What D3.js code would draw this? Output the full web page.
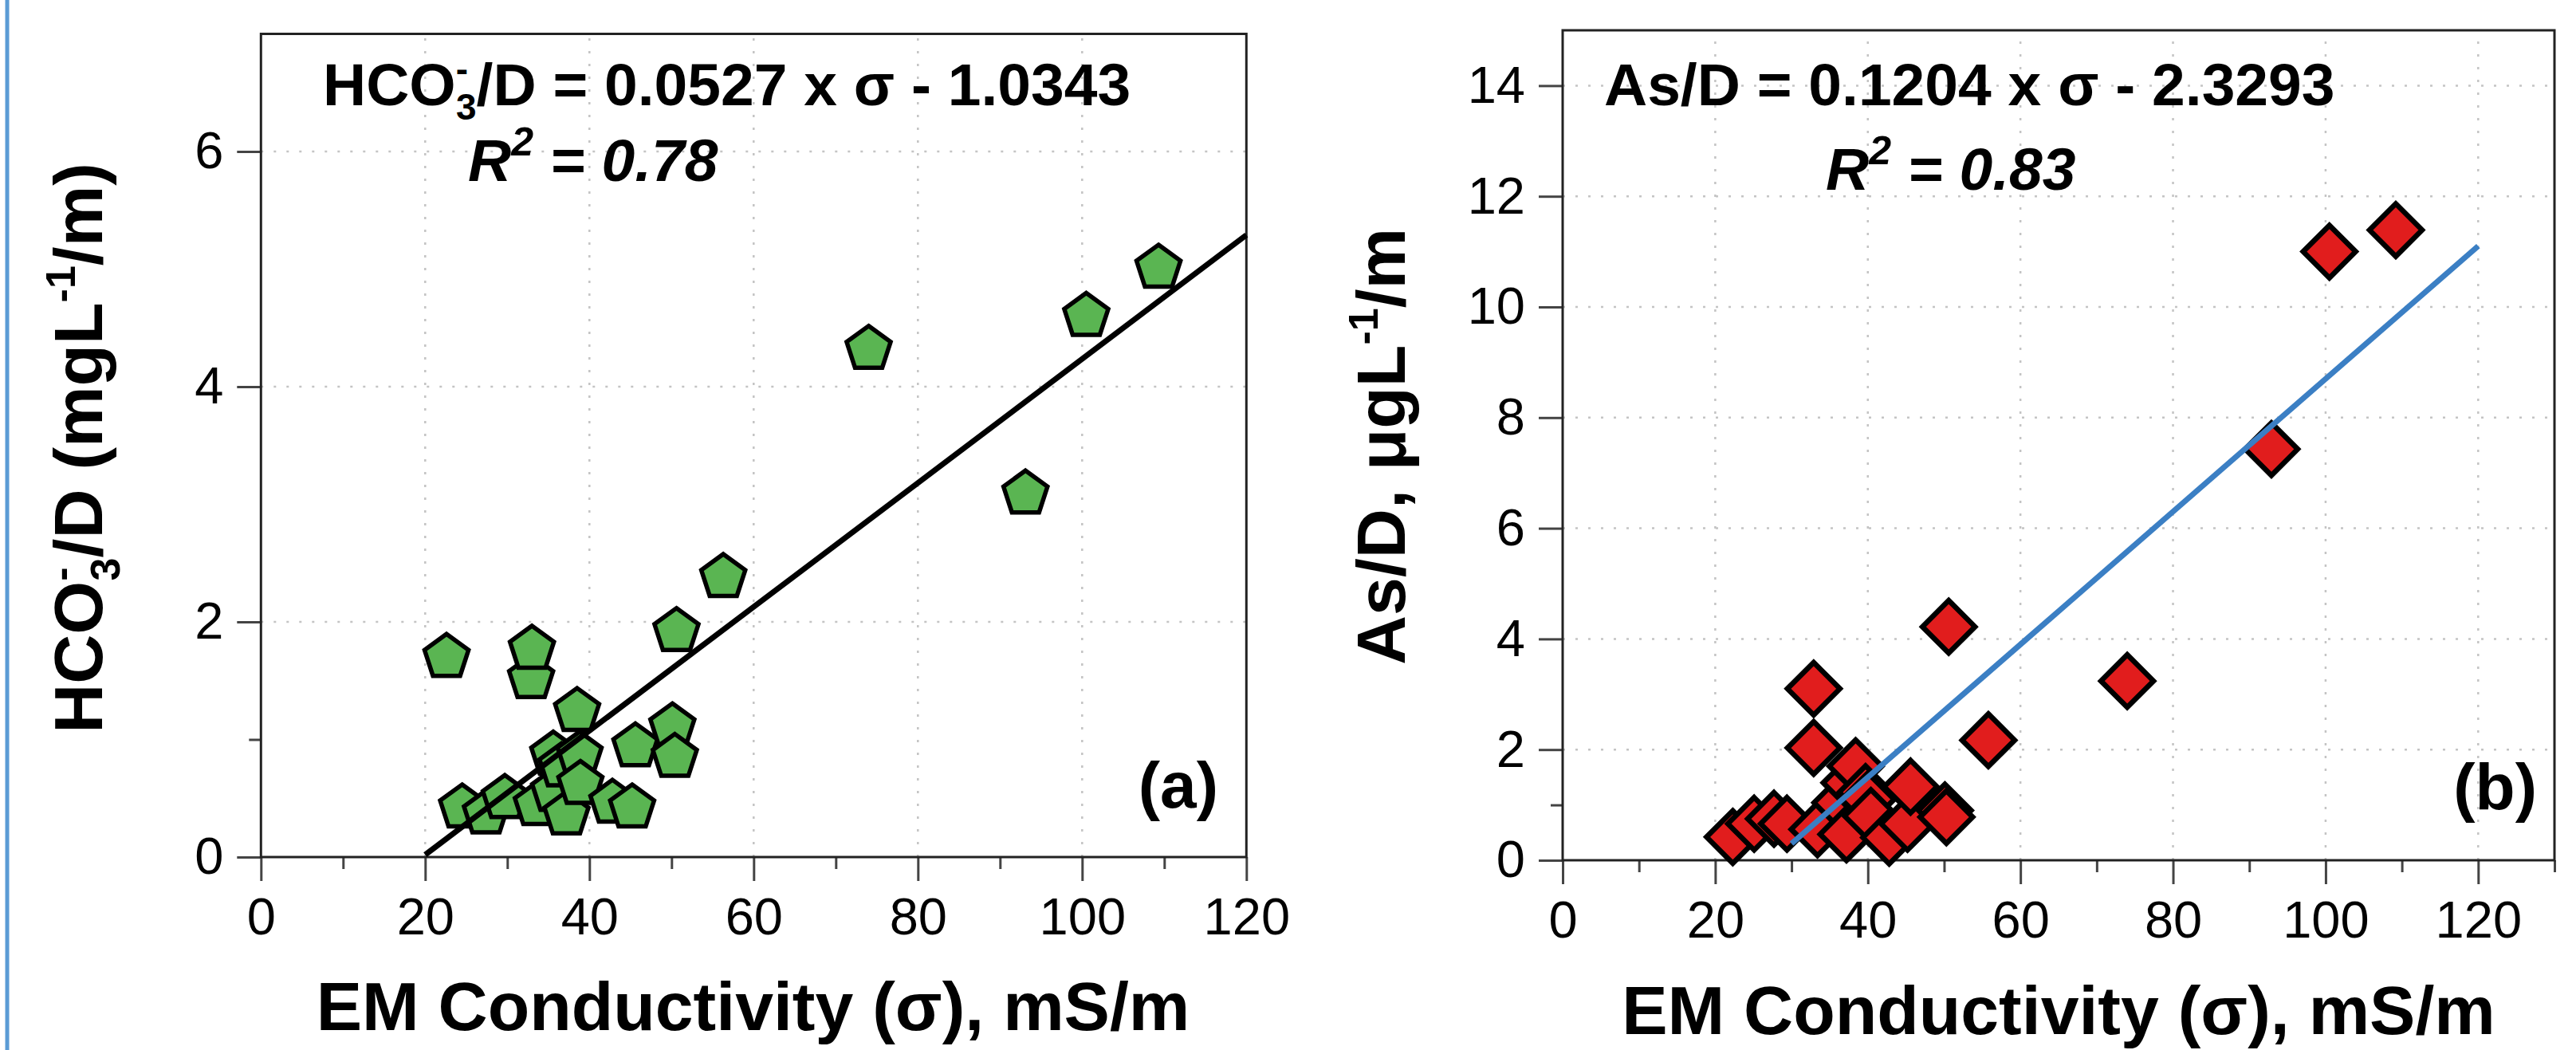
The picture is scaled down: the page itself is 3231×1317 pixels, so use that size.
<!DOCTYPE html>
<html><head><meta charset="utf-8">
<script src="https://cdn.jsdelivr.net/npm/d3@7"></script>
<style>
body{margin:0;background:#fff;}
svg{display:block;}
text{font-family:"Liberation Sans",Arial,Helvetica,sans-serif;}
</style>
</head><body>
<svg id="c" width="3231" height="1317"></svg>
<script>
// ---------- data ----------
// Panel (a): HCO3-/D vs EM conductivity
const sigmaA = [22.6, 24.5, 27.4, 29.7, 32.9, 33.0, 33.6, 35.6, 35.7, 36.6, 37.2, 38.5, 38.8, 38.9, 42.8, 45.2, 45.6, 50.1, 50.4, 50.6, 56.3, 74.0, 93.1, 100.5, 109.3];
const hco3A  = [1.70, 0.42, 0.37, 0.50, 1.52, 1.77, 0.44, 0.87, 0.56, 0.77, 0.36, 1.24, 0.87, 0.62, 0.46, 0.42, 0.94, 1.11, 0.85, 1.92, 2.38, 4.32, 3.09, 4.60, 5.01];
// Panel (b): As/D vs EM conductivity
const sigmaB = [22.3, 25.1, 27.7, 29.4, 32.9, 32.9, 33.4, 36.4, 37.2, 37.6, 38.4, 39.7, 40.0, 40.4, 42.8, 45.2, 45.6, 50.1, 50.3, 50.6, 55.8, 74.0, 92.9, 100.5, 109.2];
const asB    = [0.42, 0.66, 0.75, 0.66, 3.10, 2.03, 0.56, 1.04, 0.47, 1.40, 1.70, 1.23, 1.10, 0.80, 0.41, 0.66, 1.33, 0.90, 0.78, 4.22, 2.17, 3.24, 7.43, 11.0, 11.39];
// regression lines
const fitASlope = 0.0527, fitAIntercept = -1.0343, fitARange = [20, 120];
const fitBx = [30, 120], fitBy = [0.30, 11.1];
// ticks
const xTickValues = [0, 20, 40, 60, 80, 100, 120];
const xMinorA = [10, 30, 50, 70, 90, 110];
const xMinorB = [10, 30, 50, 70, 90, 110, 130];
const yTicksA = [0, 2, 4, 6];
const yTicksB = [0, 2, 4, 6, 8, 10, 12, 14];
const yMinor = [1];
const gridXA = [20, 40, 60, 80, 100];
const gridXB = [20, 40, 60, 80, 100, 120];
const gridYA = [2, 4, 6];
const gridYB = [2, 4, 6, 8, 10, 12, 14];

// ---------- drawing ----------
const svg = d3.select("#c");

// blue page edge line
svg.append("line").attr("x1",9).attr("x2",9).attr("y1",0).attr("y2",1317)
  .attr("stroke","#5b9bd5").attr("stroke-width",5);

const pentagon = {
  draw(ctx, size){
    const R = Math.sqrt(size);
    for(let i=0;i<5;i++){
      const a = -Math.PI/2 + i*2*Math.PI/5;
      const px = R*Math.cos(a), py = R*Math.sin(a);
      if(i===0) ctx.moveTo(px,py); else ctx.lineTo(px,py);
    }
    ctx.closePath();
  }
};

function panel(cfg){
  const x = d3.scaleLinear().domain(cfg.xDomain).range(cfg.xRange);
  const y = d3.scaleLinear().domain(cfg.yDomain).range(cfg.yRange);
  const g = svg.append("g");
  const y0 = cfg.yRange[0], y1 = cfg.yRange[1], x0 = cfg.xRange[0], x1 = cfg.xRange[1];

  // grid
  g.append("g").selectAll("line").data(cfg.gridX).join("line")
    .attr("x1",d=>x(d)).attr("x2",d=>x(d)).attr("y1",y0).attr("y2",y1)
    .attr("stroke","#c4c4c4").attr("stroke-width",2.5).attr("stroke-dasharray","3 13");
  g.append("g").selectAll("line").data(cfg.gridY).join("line")
    .attr("y1",d=>y(d)).attr("y2",d=>y(d)).attr("x1",x0).attr("x2",x1)
    .attr("stroke","#c4c4c4").attr("stroke-width",2.5).attr("stroke-dasharray","3 13");

  // axes
  const styleAxis = sel => {
    sel.select(".domain").remove();
    sel.selectAll(".tick line").attr("stroke","#444").attr("stroke-width",3);
    sel.selectAll(".tick text").attr("font-size",65).attr("fill","#000")
      .style("font-family",'"Liberation Sans",Arial,Helvetica,sans-serif');
  };
  g.append("g").attr("transform",`translate(0,${y0})`)
    .call(d3.axisBottom(x).tickValues(xTickValues).tickSize(30).tickPadding(21).tickFormat(d3.format("d")))
    .call(styleAxis);
  g.append("g").attr("transform",`translate(0,${y0})`)
    .call(d3.axisBottom(x).tickValues(cfg.xMinor).tickSize(15).tickFormat(""))
    .call(styleAxis);
  g.append("g").attr("transform",`translate(${x0},0)`)
    .call(d3.axisLeft(y).tickValues(cfg.yTicks).tickSize(30).tickPadding(17).tickFormat(d3.format("d")))
    .call(styleAxis);
  g.append("g").attr("transform",`translate(${x0},0)`)
    .call(d3.axisLeft(y).tickValues(yMinor).tickSize(15).tickFormat(""))
    .call(styleAxis);

  // frame
  g.append("rect").attr("x",x0).attr("y",y1).attr("width",x1-x0).attr("height",y0-y1)
    .attr("fill","none").attr("stroke","#222").attr("stroke-width",3);

  // points
  const pts = cfg.xs.map((v,i)=>({x:v,y:cfg.ys[i]}));
  g.append("g").selectAll("path").data(pts).join("path")
    .attr("transform",d=>`translate(${x(d.x)},${y(d.y)})`)
    .attr("d",cfg.symbol)
    .attr("fill",cfg.fill).attr("stroke","#000").attr("stroke-width",cfg.sw)
    .attr("stroke-linejoin","miter");

  // regression line
  g.append("path").datum(cfg.line)
    .attr("d",d3.line().x(d=>x(d[0])).y(d=>y(d[1])))
    .attr("fill","none").attr("stroke",cfg.lineColor).attr("stroke-width",cfg.lineWidth);

  return {x,y,g};
}

const lineA = fitARange.map(v=>[v, fitASlope*v + fitAIntercept]);
const lineB = fitBx.map((v,i)=>[v, fitBy[i]]);

const A = panel({
  xDomain:[0,120], xRange:[327.3,1563.3], yDomain:[0,7], yRange:[1075,42.5],
  gridX:gridXA, gridY:gridYA, xMinor:xMinorA, yTicks:yTicksA,
  xs:sigmaA, ys:hco3A, symbol:d3.symbol().type(pentagon).size(29*29),
  fill:"#5ab552", sw:5.5, line:lineA, lineColor:"#000", lineWidth:7
});
const B = panel({
  xDomain:[0,130], xRange:[1960,3204], yDomain:[0,15], yRange:[1079,38],
  gridX:gridXB, gridY:gridYB, xMinor:xMinorB, yTicks:yTicksB,
  xs:sigmaB, ys:asB, symbol:d3.symbol().type(d3.symbolDiamond2).size(Math.pow(33/0.62625,2)),
  fill:"#e11d1d", sw:6.5, line:lineB, lineColor:"#3b7fc4", lineWidth:7
});

// ---------- texts ----------
// Equation (a)
const eqA = svg.append("text").attr("x",405).attr("y",132).attr("font-size",75).attr("font-weight","bold");
eqA.append("tspan").text("HCO");
eqA.append("tspan").attr("font-size",46).attr("dy",-30).text("-");
eqA.append("tspan").attr("font-size",46).attr("dx",-15).attr("dy",48).text("3");
eqA.append("tspan").attr("dy",-18).text("/D = 0.0527 x σ - 1.0343");

const r2A = svg.append("text").attr("x",587).attr("y",227).attr("font-size",75)
  .attr("font-weight","bold").attr("font-style","italic");
r2A.append("tspan").text("R");
r2A.append("tspan").attr("font-size",50).attr("dy",-32).text("2");
r2A.append("tspan").attr("dy",32).text(" = 0.78");

// Equation (b)
const eqB = svg.append("text").attr("x",2012).attr("y",132).attr("font-size",75).attr("font-weight","bold");
eqB.text("As/D = 0.1204 x σ - 2.3293");
const r2B = svg.append("text").attr("x",2290).attr("y",238).attr("font-size",75)
  .attr("font-weight","bold").attr("font-style","italic");
r2B.append("tspan").text("R");
r2B.append("tspan").attr("font-size",50).attr("dy",-32).text("2");
r2B.append("tspan").attr("dy",32).text(" = 0.83");

// panel labels
svg.append("text").attr("x",1528).attr("y",1013).attr("text-anchor","end")
  .attr("font-size",82).attr("font-weight","bold").text("(a)");
svg.append("text").attr("x",3182).attr("y",1015).attr("text-anchor","end")
  .attr("font-size",82).attr("font-weight","bold").text("(b)");

// x titles
svg.append("text").attr("x",944.5).attr("y",1292).attr("text-anchor","middle")
  .attr("font-size",86).attr("font-weight","bold").text("EM Conductivity (σ), mS/m");
svg.append("text").attr("x",2582).attr("y",1297).attr("text-anchor","middle")
  .attr("font-size",86).attr("font-weight","bold").text("EM Conductivity (σ), mS/m");

// y titles
const ytA = svg.append("text").attr("transform","translate(128,562) rotate(-90)")
  .attr("text-anchor","middle").attr("font-size",86).attr("font-weight","bold");
ytA.append("tspan").text("HCO");
ytA.append("tspan").attr("font-size",52).attr("dy",-34).text("-");
ytA.append("tspan").attr("font-size",52).attr("dx",-17).attr("dy",56).text("3");
ytA.append("tspan").attr("dy",-22).text("/D (mgL");
ytA.append("tspan").attr("font-size",52).attr("dy",-34).text("-1");
ytA.append("tspan").attr("dy",34).text("/m)");

const ytB = svg.append("text").attr("transform","translate(1762,560) rotate(-90)")
  .attr("text-anchor","middle").attr("font-size",86).attr("font-weight","bold");
ytB.append("tspan").text("As/D, μgL");
ytB.append("tspan").attr("font-size",52).attr("dy",-34).text("-1");
ytB.append("tspan").attr("dy",34).text("/m");
</script>
</body></html>
